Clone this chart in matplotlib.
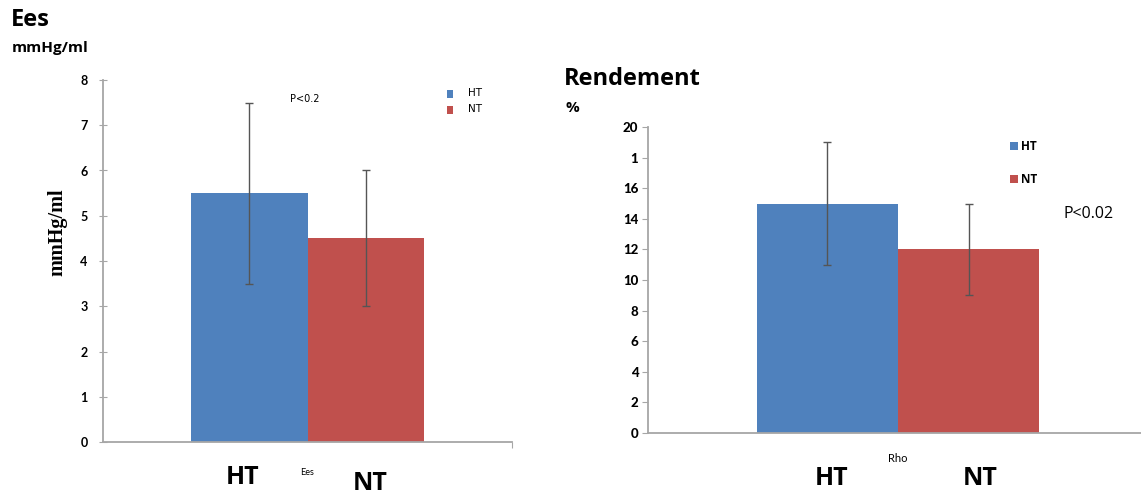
import matplotlib
matplotlib.use("Agg")
import matplotlib.pyplot as plt
from matplotlib.patches import Rectangle

# ---- data ----
categories = ["HT", "NT"]
ees_mean = [5.5, 4.5]
ees_low = [3.5, 3.0]
ees_high = [7.5, 6.0]
ees_ticks = [0, 1, 2, 3, 4, 5, 6, 7, 8]
ees_ticklabels = ["0", "1", "2", "3", "4", "5", "6", "7", "8"]

rho_mean = [15, 12]
rho_low = [11, 9]
rho_high = [19, 15]
rho_ticks = [0, 2, 4, 6, 8, 10, 12, 14, 16, 18, 20]
rho_ticklabels = ["0", "2", "4", "6", "8", "10", "12", "14", "16", "1", "20"]

colors = ["#4F81BD", "#C0504D"]

W, H = 1141, 494
fig = plt.figure(figsize=(W / 100, H / 100), dpi=100)
FONT = "Lato"
TFONT = "Open Sans"


def fx(px):
    return px / W


def fy(py):
    return 1 - py / H


def style_axis(ax):
    for s in ("top", "right"):
        ax.spines[s].set_visible(False)
    for s in ("left", "bottom"):
        ax.spines[s].set_color("#A6A6A6")
        ax.spines[s].set_linewidth(1.3)
    ax.set_facecolor("none")


def draw(ax, means, lows, highs):
    x = list(range(len(means)))
    ax.bar(x, means, width=1.0, color=colors, edgecolor="none", zorder=2)
    yerr = [[m - l for m, l in zip(means, lows)], [h - m for m, h in zip(means, highs)]]
    ax.errorbar(x, means, yerr=yerr, fmt="none", ecolor="#555555",
                elinewidth=1.0, capsize=3, capthick=1.0, zorder=3)


# ---- left chart: Ees ----
ax1 = fig.add_axes([fx(103), fy(442), fx(512 - 103), (442 - 80) / H])
style_axis(ax1)
draw(ax1, ees_mean, ees_low, ees_high)
ax1.set_xlim(-1.25, 2.25)
ax1.set_ylim(0, 8)
ax1.set_yticks(ees_ticks)
ax1.set_yticklabels(ees_ticklabels, fontfamily=FONT, fontweight="bold", fontsize=9)
ax1.tick_params(axis="y", direction="inout", length=6, color="#A6A6A6", pad=8)
ax1.set_xticks([2.25])
ax1.set_xticklabels([""])
ax1.tick_params(axis="x", direction="out", length=4, color="#A6A6A6")

# ---- right chart: Rendement ----
ax2 = fig.add_axes([fx(648), fy(433), fx(1148 - 648), (433 - 127) / H])
style_axis(ax2)
draw(ax2, rho_mean, rho_low, rho_high)
ax2.set_xlim(-1.27, 2.27)
ax2.set_ylim(0, 20)
ax2.set_yticks(rho_ticks)
ax2.set_yticklabels(rho_ticklabels, fontfamily=FONT, fontweight="black", fontsize=9.5)
ax2.tick_params(axis="y", direction="out", length=4, color="#A6A6A6", pad=3)
ax2.set_xticks([])

# ---- texts ----
fig.text(fx(11), fy(20), "Ees", fontfamily=TFONT, fontweight="bold", fontsize=17, ha="left", va="center")
fig.text(fx(12), fy(48), "mmHg/ml", fontfamily=TFONT, fontweight="bold", fontsize=11, ha="left", va="center")
fig.text(fx(57), fy(232), "mmHg/ml", fontfamily="Liberation Serif", fontweight="bold",
         fontsize=14.5, rotation=90, ha="center", va="center")
fig.text(fx(305), fy(99), "P<0.2", fontfamily="DejaVu Sans", fontsize=7, ha="center", va="center")

fig.text(fx(564), fy(79), "Rendement", fontfamily=TFONT, fontweight="bold", fontsize=17, ha="left", va="center")
fig.text(fx(565), fy(108), "%", fontfamily=TFONT, fontweight="bold", fontsize=11, ha="left", va="center")
fig.text(fx(1089), fy(214), "P<0.02", fontfamily=TFONT, fontsize=11.5, ha="center", va="center")

# category labels
fig.text(fx(243), fy(477), categories[0], fontfamily=TFONT, fontweight="bold", fontsize=18, ha="center", va="center")
fig.text(fx(370), fy(483), categories[1], fontfamily=TFONT, fontweight="bold", fontsize=18, ha="center", va="center")
fig.text(fx(307), fy(472), "Ees", fontfamily=FONT, fontsize=6.5, ha="center", va="center")
fig.text(fx(832), fy(478), categories[0], fontfamily=TFONT, fontweight="bold", fontsize=18, ha="center", va="center")
fig.text(fx(980), fy(478), categories[1], fontfamily=TFONT, fontweight="bold", fontsize=18, ha="center", va="center")
fig.text(fx(898), fy(458), "Rho", fontfamily=FONT, fontsize=8, ha="center", va="center")

# legends (hand placed)
for i, (cat, yc) in enumerate(zip(categories, [94, 110])):
    fig.patches.append(Rectangle((fx(447), fy(yc + 4)), fx(6), 8 / H, transform=fig.transFigure,
                                 facecolor=colors[i], edgecolor="none"))
    fig.text(fx(468), fy(yc - 1), cat, fontfamily="DejaVu Sans", fontsize=7.5, ha="left", va="center")

for i, (cat, yc) in enumerate(zip(categories, [146, 179])):
    fig.patches.append(Rectangle((fx(1010), fy(yc + 4)), fx(8), 8 / H, transform=fig.transFigure,
                                 facecolor=colors[i], edgecolor="none"))
    fig.text(fx(1021), fy(yc), cat, fontfamily=TFONT, fontweight="bold", fontsize=8.5, ha="left", va="center")

fig.savefig("out.png", dpi=100)
